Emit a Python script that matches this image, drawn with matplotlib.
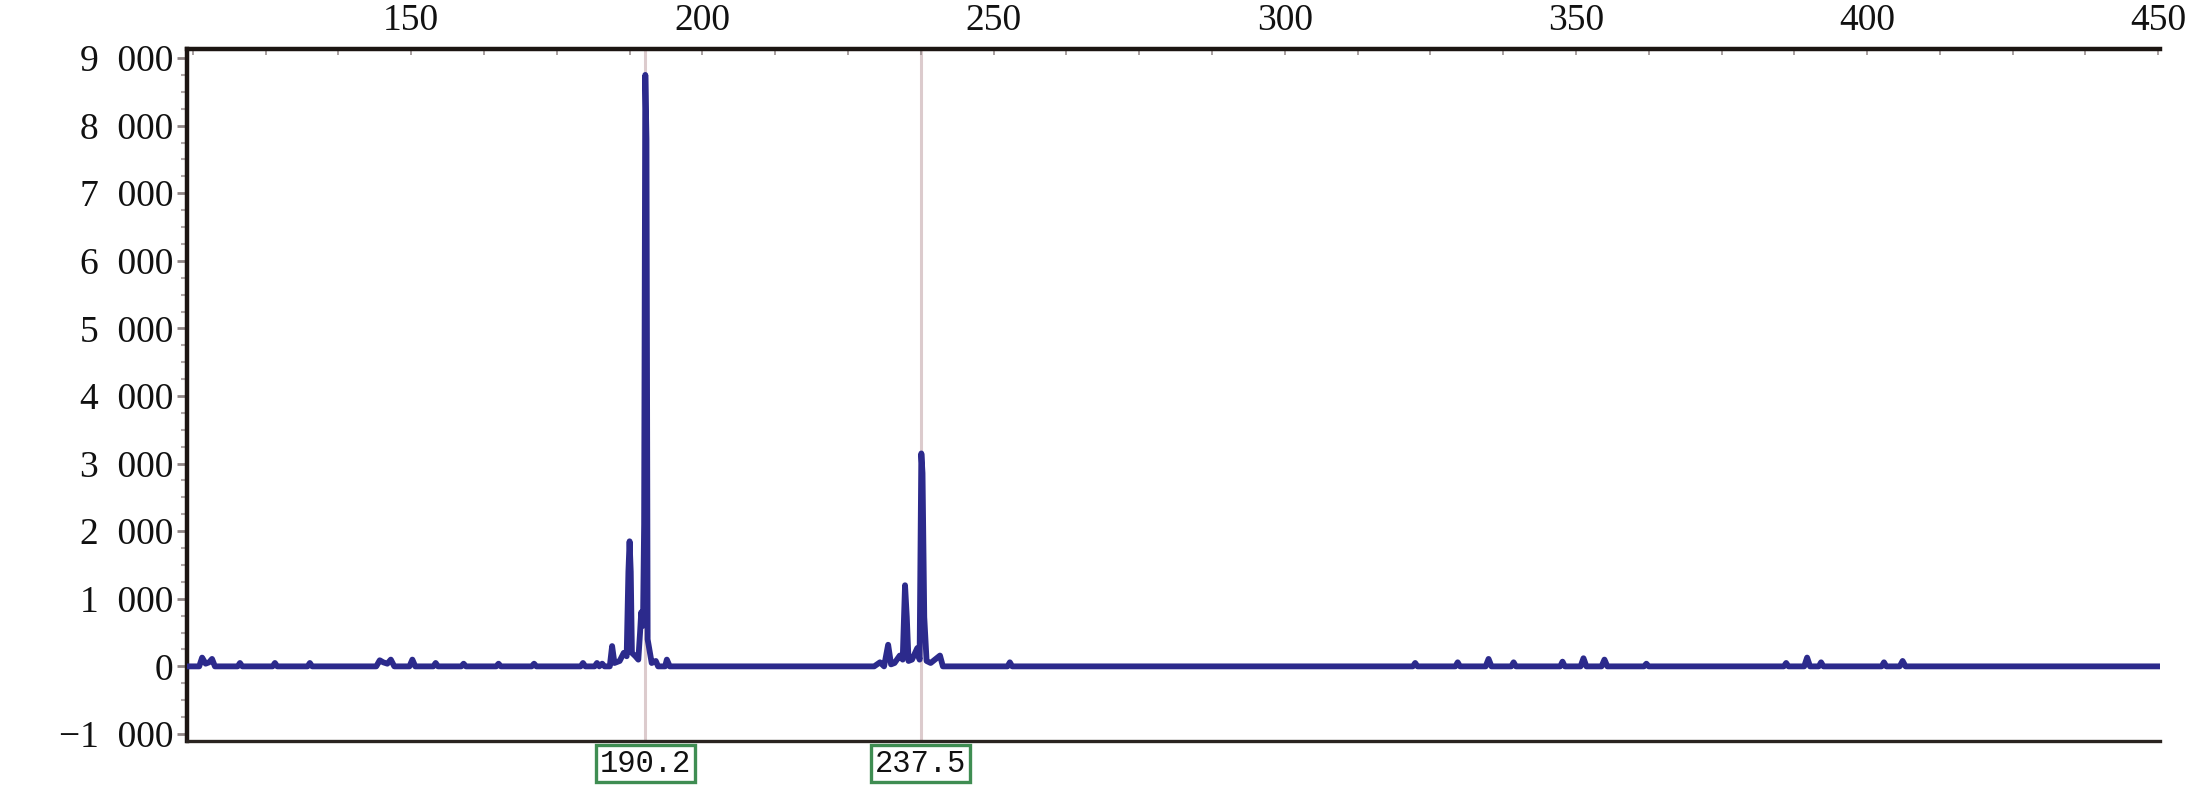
import matplotlib
matplotlib.use("Agg")
import matplotlib.pyplot as plt
from matplotlib.ticker import MultipleLocator, FixedLocator
from matplotlib.transforms import blended_transform_factory

# spectrum trace
mz = [111.5, 113.6, 114.1, 114.7, 115.3, 115.8, 116.3, 120.2, 120.6, 121.0,
      126.2, 126.6, 127.0, 132.2, 132.6, 133.0, 144.0, 144.6, 145.2, 145.9,
      146.5, 147.1, 149.7, 150.2, 150.7, 153.8, 154.2, 154.6, 158.6, 159.0,
      159.4, 164.6, 165.0, 165.4, 170.7, 171.1, 171.5, 179.1, 179.5, 179.9,
      181.5, 181.9, 182.3, 182.8, 183.2, 184.1, 184.5, 184.9, 185.8, 186.5,
      187.0, 187.3, 187.5, 187.7, 187.9, 188.5, 189.0, 189.3, 189.5, 189.8,
      190.0, 190.2, 190.4, 190.6, 190.9, 191.3, 192.0, 192.4, 193.6, 193.9,
      194.4, 229.5, 230.5, 231.2, 231.9, 232.4, 233.0, 233.9, 234.4, 234.8,
      235.1, 235.4, 236.0, 236.9, 237.3, 237.6, 237.8, 238.1, 238.5, 239.2,
      240.8, 241.3, 252.4, 252.8, 253.2, 322.0, 322.4, 322.8, 329.3, 329.7,
      330.1, 334.5, 335.0, 335.5, 338.9, 339.3, 339.7, 347.3, 347.7, 348.1,
      350.8, 351.3, 351.8, 354.4, 354.9, 355.4, 361.7, 362.1, 362.5, 385.7,
      386.1, 386.5, 389.2, 389.7, 390.2, 391.7, 392.1, 392.5, 402.5, 402.9,
      403.3, 405.6, 406.1, 406.6, 450.0]
intensity = [0, 0, 130, 40, 60, 110, 0, 0, 50, 0,
             0, 50, 0, 0, 50, 0, 0, 90, 60, 40,
             100, 0, 0, 100, 0, 0, 50, 0, 0, 40,
             0, 0, 40, 0, 0, 40, 0, 0, 50, 0,
             0, 50, 0, 40, 0, 0, 300, 50, 80, 200,
             150, 1400, 1850, 1400, 200, 150, 100, 500, 800, 600,
             2100, 8750, 7800, 400, 250, 50, 80, 0, 0, 100,
             0, 0, 60, 0, 320, 30, 50, 160, 100, 1200,
             730, 80, 100, 270, 100, 3150, 2860, 730, 80, 50,
             160, 0, 0, 60, 0, 0, 50, 0, 0, 60,
             0, 0, 110, 0, 0, 60, 0, 0, 70, 0,
             0, 120, 0, 0, 100, 0, 0, 40, 0, 0,
             50, 0, 0, 130, 0, 0, 60, 0, 0, 60,
             0, 0, 80, 0, 0]

marked_peaks = [190.2, 237.5]
peak_labels = ["190.2", "237.5"]

y_ticks = [-1000, 0, 1000, 2000, 3000, 4000, 5000, 6000, 7000, 8000, 9000]
y_ticklabels = ["\u22121  000", "0", "1  000", "2  000", "3  000", "4  000",
                "5  000", "6  000", "7  000", "8  000", "9  000"]
x_ticks = [150, 200, 250, 300, 350, 400, 450]

fig = plt.figure(figsize=(22.05, 7.96), dpi=100)
ax = fig.add_axes([0.0848, 0.0691, 0.8948, 0.8693])

for p in marked_peaks:
    ax.axvline(p, color="#dccbcd", lw=2.2, zorder=1)

ax.plot(mz, intensity, color="#2c2a8c", lw=4.2, solid_joinstyle="round", zorder=3)

ax.set_xlim(111.5, 450.3)
ax.set_ylim(-1104, 9133)

ax.xaxis.tick_top()
ax.xaxis.set_major_locator(FixedLocator(x_ticks))
ax.xaxis.set_minor_locator(MultipleLocator(12.5))
ax.set_yticks(y_ticks)
ax.set_yticklabels(y_ticklabels)
ax.yaxis.set_minor_locator(MultipleLocator(250))

for lab in ax.get_xticklabels() + ax.get_yticklabels():
    lab.set_fontfamily("Liberation Serif")
    lab.set_fontsize(27)
    lab.set_color("#111111")

ax.tick_params(axis="x", which="both", direction="in", length=4, width=1.2,
               color="#9a9090", pad=8)
ax.tick_params(axis="y", which="major", direction="out", length=7, width=2,
               color="#8f8585", pad=3)
ax.tick_params(axis="y", which="minor", direction="out", length=4, width=1.5,
               color="#b0a8a8")

ax.spines["right"].set_visible(False)
for s in ["left", "top"]:
    ax.spines[s].set_linewidth(3.2)
    ax.spines[s].set_color("#1c1512")
ax.spines["bottom"].set_linewidth(2.4)
ax.spines["bottom"].set_color("#2a2420")

trans = blended_transform_factory(ax.transData, ax.transAxes)
for p, t in zip(marked_peaks, peak_labels):
    ax.text(p, -0.033, t, transform=trans, ha="center", va="center",
            fontsize=22, family="Liberation Mono", color="#111111",
            bbox=dict(boxstyle="square,pad=0.12", fc="white",
                      ec="#3f8d52", lw=2.4))

fig.savefig("out.png", dpi=100)
